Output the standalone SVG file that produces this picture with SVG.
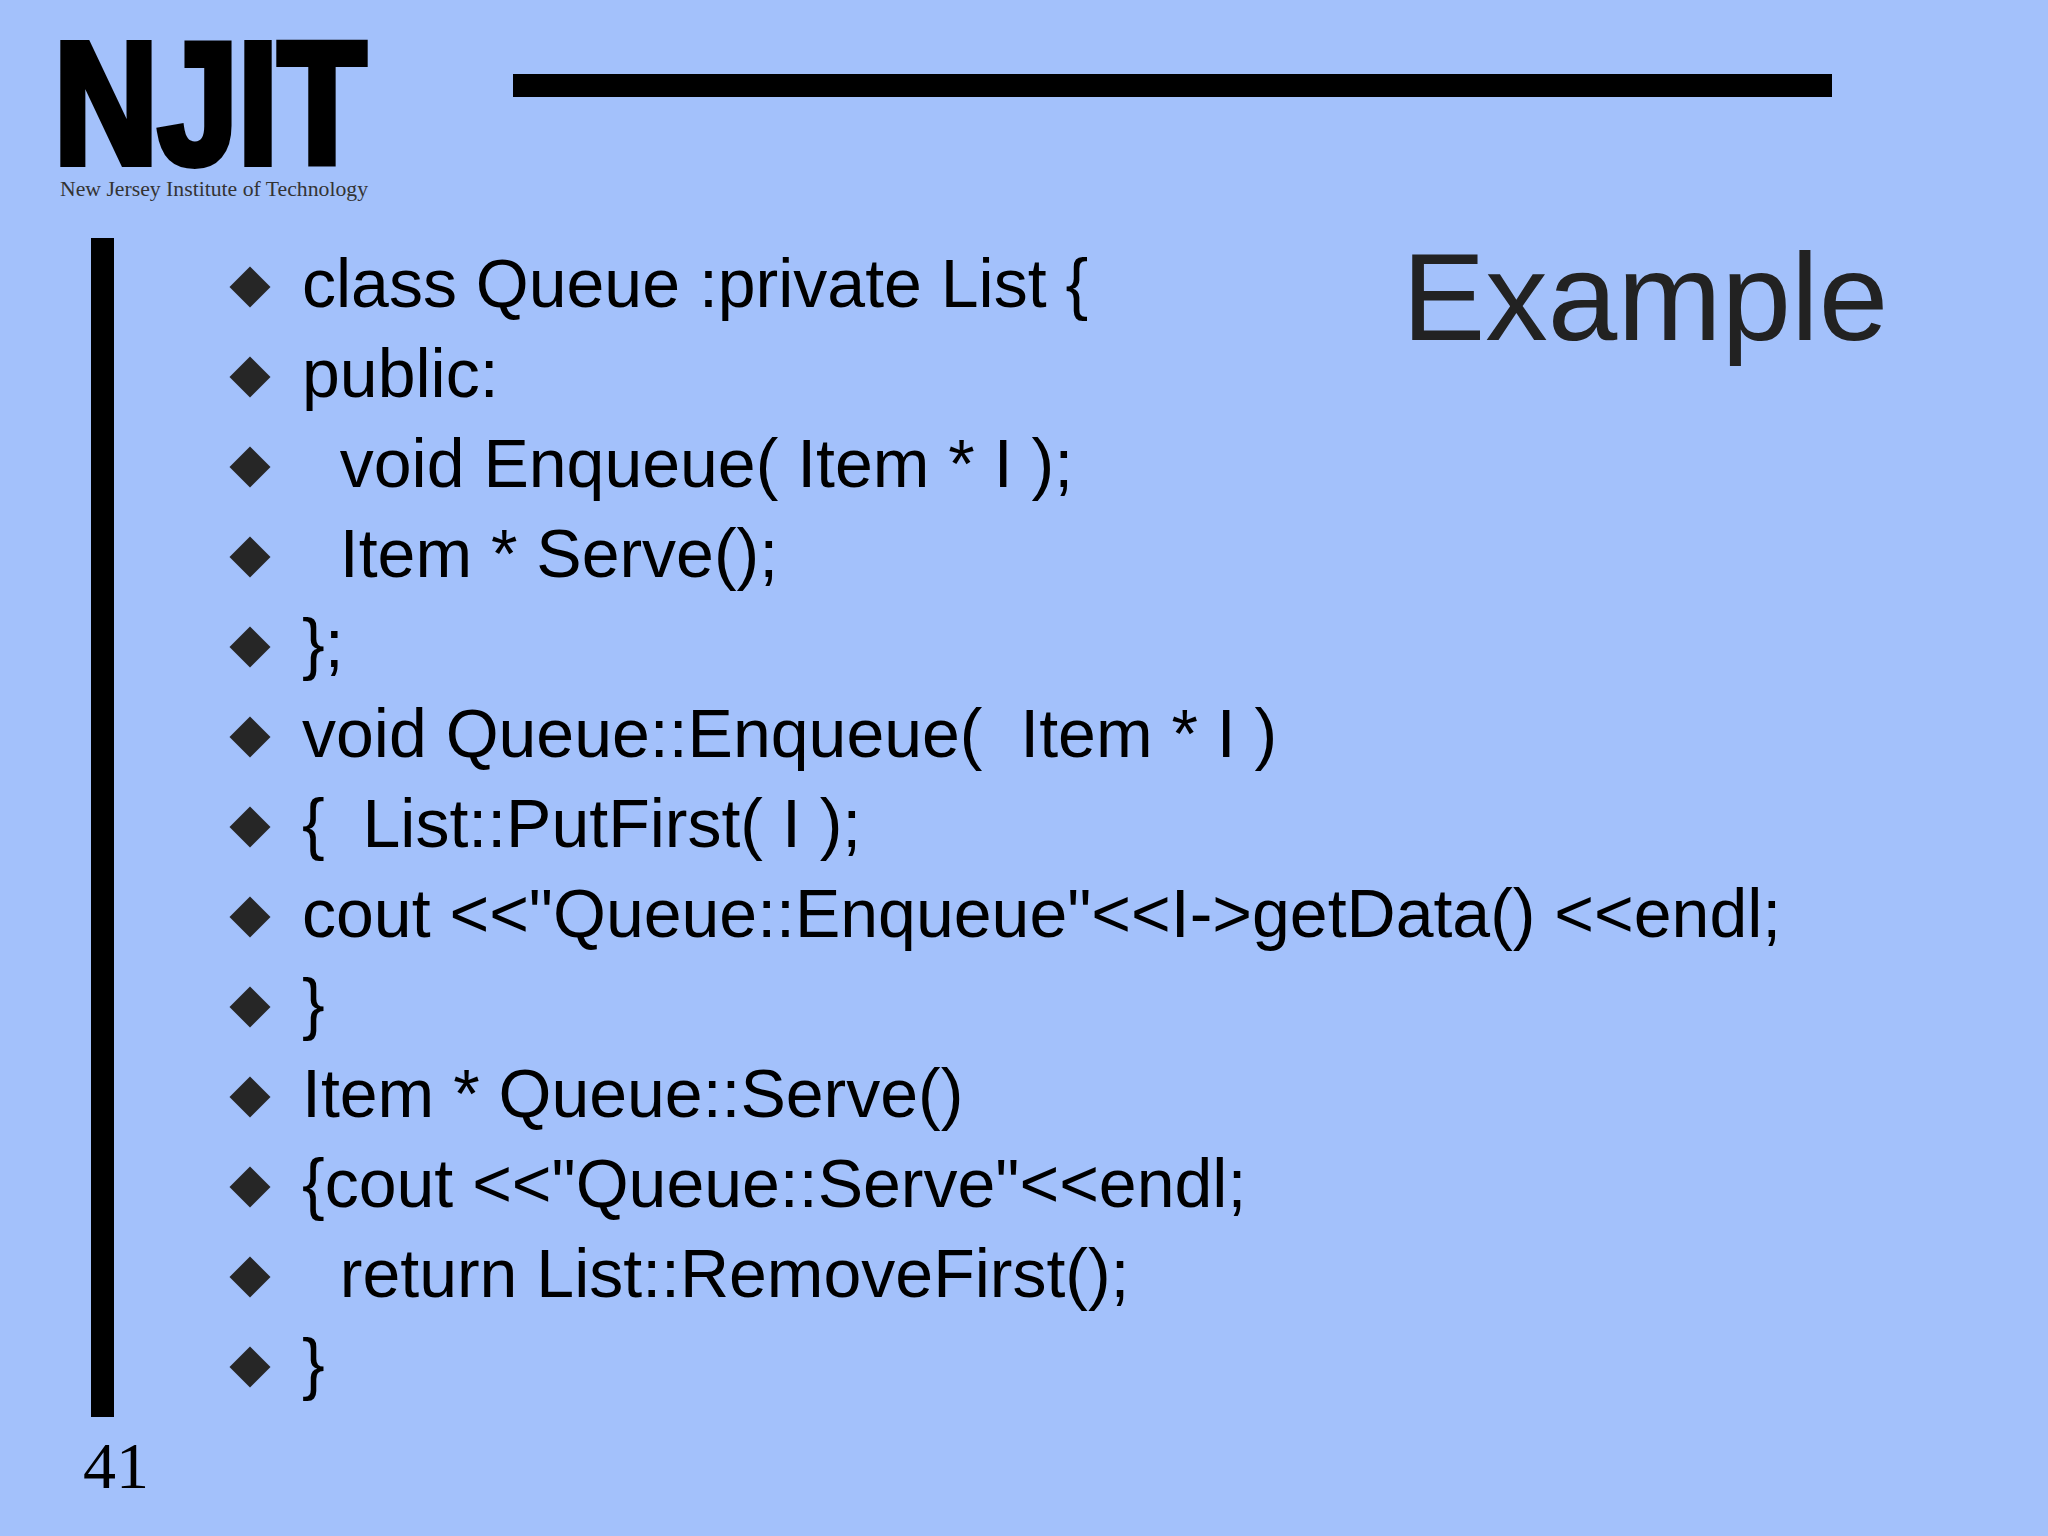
<svg xmlns="http://www.w3.org/2000/svg" width="2048" height="1536" viewBox="0 0 2048 1536">
<style>
.bg{fill:#A3C1FB}
.bar{fill:#000}
.item{font-family:"Liberation Sans",Arial,sans-serif;font-size:68px;fill:#000}
.dia{fill:#262626}
.title{font-family:"Liberation Sans",Arial,sans-serif;font-size:125px;fill:#222}
.logo{font-family:"Liberation Sans",Arial,sans-serif;font-weight:bold;font-size:173px;fill:#000;stroke:#000;stroke-width:8;stroke-linejoin:miter}
.sub{font-family:"Liberation Serif","Times New Roman",serif;font-size:21px;fill:#333}
.num{font-family:"Liberation Serif","Times New Roman",serif;font-size:66px;fill:#000}
</style>
<defs>
<path id="d" d="M0,-20.5 L20.5,0 L0,20.5 L-20.5,0 Z"/>
</defs>
<rect class="bg" x="0" y="0" width="2048" height="1536"/>
<g id="logo">
<text class="logo" x="54" y="163" textLength="312" lengthAdjust="spacingAndGlyphs">NJIT</text>
<text class="sub" x="60" y="196" textLength="308" lengthAdjust="spacingAndGlyphs">New Jersey Institute of Technology</text>
</g>
<g id="rules">
<rect class="bar" x="513" y="74" width="1319" height="23"/>
<rect class="bar" x="91" y="238" width="23" height="1179"/>
</g>
<g id="title">
<text class="title" x="1402" y="340">Example</text>
</g>
<g id="bullets">
<use href="#d" class="dia" x="250" y="287"/>
<use href="#d" class="dia" x="250" y="377"/>
<use href="#d" class="dia" x="250" y="467"/>
<use href="#d" class="dia" x="250" y="557"/>
<use href="#d" class="dia" x="250" y="647"/>
<use href="#d" class="dia" x="250" y="737"/>
<use href="#d" class="dia" x="250" y="827"/>
<use href="#d" class="dia" x="250" y="917"/>
<use href="#d" class="dia" x="250" y="1007"/>
<use href="#d" class="dia" x="250" y="1097"/>
<use href="#d" class="dia" x="250" y="1187"/>
<use href="#d" class="dia" x="250" y="1277"/>
<use href="#d" class="dia" x="250" y="1367"/>
</g>
<g id="code">
<text class="item" xml:space="preserve" x="302" y="307">class Queue :private List {</text>
<text class="item" xml:space="preserve" x="302" y="397">public:</text>
<text class="item" xml:space="preserve" x="302" y="487">  void Enqueue( Item * I );</text>
<text class="item" xml:space="preserve" x="302" y="577">  Item * Serve();</text>
<text class="item" xml:space="preserve" x="302" y="667">};</text>
<text class="item" xml:space="preserve" x="302" y="757">void Queue::Enqueue(  Item * I )</text>
<text class="item" xml:space="preserve" x="302" y="847">{  List::PutFirst( I );</text>
<text class="item" xml:space="preserve" x="302" y="937">cout &lt;&lt;"Queue::Enqueue"&lt;&lt;I-&gt;getData() &lt;&lt;endl;</text>
<text class="item" xml:space="preserve" x="302" y="1027">}</text>
<text class="item" xml:space="preserve" x="302" y="1117">Item * Queue::Serve()</text>
<text class="item" xml:space="preserve" x="302" y="1207">{cout &lt;&lt;"Queue::Serve"&lt;&lt;endl;</text>
<text class="item" xml:space="preserve" x="302" y="1297">  return List::RemoveFirst();</text>
<text class="item" xml:space="preserve" x="302" y="1387">}</text>
</g>
<g id="page">
<text class="num" x="83" y="1488">41</text>
</g>
</svg>
